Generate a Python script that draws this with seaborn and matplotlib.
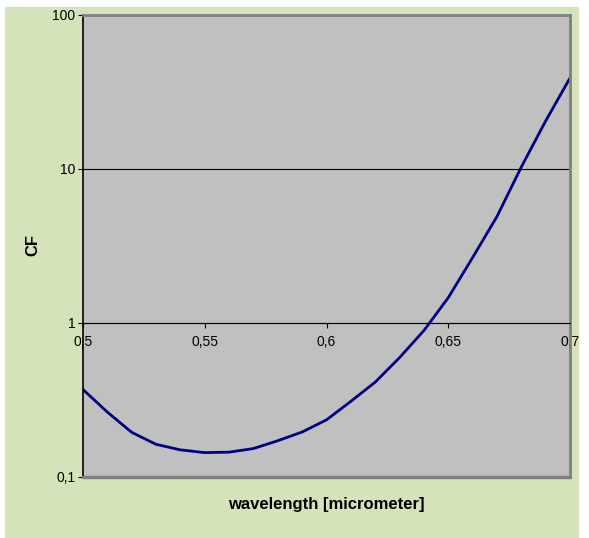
import numpy as np
import pandas as pd
import seaborn as sns
import matplotlib.pyplot as plt
from matplotlib.patches import Rectangle
from matplotlib.ticker import FixedLocator, FixedFormatter, NullLocator

# values
wavelength = [0.50, 0.51, 0.52, 0.53, 0.54, 0.55, 0.56, 0.57, 0.58, 0.59, 0.60,
              0.61, 0.62, 0.63, 0.64, 0.65, 0.66, 0.67, 0.68, 0.69, 0.70]
cf = [0.37, 0.264, 0.195, 0.163, 0.150, 0.144, 0.145, 0.153, 0.172, 0.196, 0.235,
      0.31, 0.413, 0.596, 0.893, 1.46, 2.66, 4.91, 10.3, 20.5, 39.0]
x_ticks = [0.5, 0.55, 0.6, 0.65, 0.7]
x_labels = ["0,5", "0,55", "0,6", "0,65", "0,7"]
y_ticks = [0.1, 1, 10, 100]
y_labels = ["0,1", "1", "10", "100"]


def main():
    sns.set_style("white")
    plt.rcParams['font.family'] = ['Liberation Sans', 'DejaVu Sans']
    plt.rcParams['text.color'] = "black"
    plt.rcParams['xtick.color'] = "black"
    plt.rcParams['ytick.color'] = "black"

    df = pd.DataFrame({"wavelength": wavelength, "CF": cf})

    fig = plt.figure(figsize=(5.89, 5.38), dpi=100, facecolor="white")
    # green chart area
    fig.patches.append(Rectangle((5 / 589, 0), 574 / 589, 531 / 538,
                                 transform=fig.transFigure, facecolor="#D5E3BB",
                                 edgecolor="none", zorder=-5))
    ax = fig.add_axes([83 / 589, 1 - 477 / 538, 487 / 589, 462 / 538])
    ax.set_zorder(2)
    ax.set_facecolor("#C0C0C0")

    sns.lineplot(data=df, x="wavelength", y="CF", color="#000080", lw=2.0, ax=ax)

    ax.set_yscale("log")
    ax.set_xlim(0.5, 0.7)
    ax.set_ylim(0.1, 100)

    # gridlines at the decades
    for v in [1, 10]:
        ax.axhline(v, color="black", lw=0.8, zorder=1)

    # x axis crosses at 1, as in Excel
    ax.spines['bottom'].set_position(('data', 1))
    ax.spines['bottom'].set_color("black")
    ax.spines['bottom'].set_linewidth(0.8)
    ax.spines['left'].set_color("black")
    ax.spines['left'].set_linewidth(1.2)
    for s in ['top', 'right']:
        ax.spines[s].set_color("#808080")
        ax.spines[s].set_linewidth(2.0)
    ax.axhline(0.1, color="#808080", lw=2.5, clip_on=False, zorder=3)

    ax.xaxis.set_major_locator(FixedLocator(x_ticks))
    ax.xaxis.set_major_formatter(FixedFormatter(x_labels))
    ax.xaxis.set_minor_locator(NullLocator())
    ax.yaxis.set_major_locator(FixedLocator(y_ticks))
    ax.yaxis.set_major_formatter(FixedFormatter(y_labels))
    ax.yaxis.set_minor_locator(NullLocator())
    ax.tick_params(axis="x", direction="out", length=3.5, width=0.8, pad=5,
                   labelsize=10, bottom=True, colors="black")
    ax.tick_params(axis="y", direction="out", length=3.5, width=0.8, pad=2,
                   labelsize=10, left=True, colors="black")

    ax.set_xlabel("")
    ax.set_ylabel("")
    fig.text(326 / 589, 1 - 505 / 538, "wavelength [micrometer]", ha="center",
             va="center", fontsize=12, fontweight="bold", color="black")
    fig.text(33 / 589, 1 - 245 / 538, "CF", ha="center", va="center",
             fontsize=12, fontweight="bold", rotation=90, color="black")

    fig.savefig("out.png", dpi=100, facecolor=fig.get_facecolor())


if __name__ == "__main__":
    main()
